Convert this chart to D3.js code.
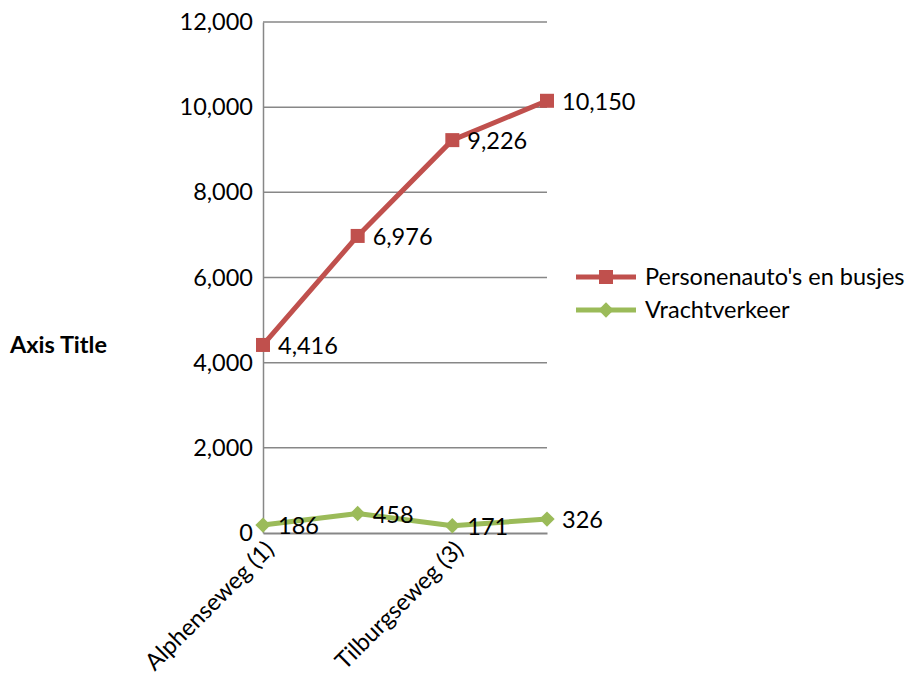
<!DOCTYPE html>
<html>
<head>
<meta charset="utf-8">
<script src="https://cdn.jsdelivr.net/npm/d3@7"></script>
<style>
  body { margin: 0; background: #fff; }
  text { font-family: Lato, "Open Sans", sans-serif; fill: #000; }
</style>
</head>
<body>
<div id="chart"></div>
<script>
// data
const categories = ["Alphenseweg (1)", "Alphenseweg (2)", "Tilburgseweg (3)", "Tilburgseweg (4)"];
const shownLabels = ["Alphenseweg (1)", "Tilburgseweg (3)"];
const cars = [4416, 6976, 9226, 10150];
const trucks = [186, 458, 171, 326];
const seriesNames = ["Personenauto's en busjes", "Vrachtverkeer"];
const yTicks = [0, 2000, 4000, 6000, 8000, 10000, 12000];

const W = 909, H = 675;
const margin = { left: 263, right: 362, top: 22, bottom: 142 };
const fs = "23.5px";

const svg = d3.select("#chart").append("svg")
    .attr("width", W)
    .attr("height", H);

const x = d3.scalePoint()
    .domain(categories)
    .range([margin.left, W - margin.right]);

const y = d3.scaleLinear()
    .domain([0, 12000])
    .range([H - margin.bottom, margin.top]);

const fmt = d3.format(",");

// gridlines
svg.append("g").selectAll("line")
    .data(yTicks.filter(d => d > 0))
    .enter().append("line")
    .attr("x1", margin.left)
    .attr("x2", W - margin.right)
    .attr("y1", d => y(d))
    .attr("y2", d => y(d))
    .attr("stroke", "#878787")
    .attr("stroke-width", 1.5);

// y axis
const yAxis = svg.append("g")
    .attr("transform", `translate(${margin.left},0)`)
    .call(d3.axisLeft(y).tickValues(yTicks).tickFormat(fmt).tickSize(0).tickPadding(10));
yAxis.select(".domain").attr("stroke", "#878787").attr("stroke-width", 1.5);
yAxis.selectAll("text").style("font-size", fs).style("font-family", "Lato");

// x axis
const xAxis = svg.append("g")
    .attr("transform", `translate(0,${y(0)})`)
    .call(d3.axisBottom(x).tickSize(0).tickFormat(d => shownLabels.includes(d) ? d : ""));
xAxis.select(".domain").attr("stroke", "#878787").attr("stroke-width", 2);
xAxis.selectAll("text")
    .style("font-size", fs)
    .style("font-family", "Lato")
    .attr("text-anchor", "end")
    .attr("dy", "0.35em")
    .attr("transform", "translate(4,10) rotate(-45)");

// axis title
svg.append("text")
    .attr("x", 10)
    .attr("y", 353)
    .style("font-size", "23.5px")
    .style("font-weight", "bold")
    .text("Axis Title");

const line = d3.line()
    .x((d, i) => x(categories[i]))
    .y(d => y(d));

// trucks series
svg.append("path")
    .datum(trucks)
    .attr("d", line)
    .attr("fill", "none")
    .attr("stroke", "#9BBB59")
    .attr("stroke-width", 5)
    .attr("stroke-linejoin", "round");

svg.append("g").selectAll("path")
    .data(trucks)
    .enter().append("path")
    .attr("d", d3.symbol().type(d3.symbolDiamond2).size(150))
    .attr("transform", (d, i) => `translate(${x(categories[i])},${y(d)})`)
    .attr("fill", "#9BBB59");

// cars series
svg.append("path")
    .datum(cars)
    .attr("d", line)
    .attr("fill", "none")
    .attr("stroke", "#C0504D")
    .attr("stroke-width", 5)
    .attr("stroke-linejoin", "round");

svg.append("g").selectAll("rect")
    .data(cars)
    .enter().append("rect")
    .attr("x", (d, i) => x(categories[i]) - 7)
    .attr("y", d => y(d) - 7)
    .attr("width", 14)
    .attr("height", 14)
    .attr("fill", "#C0504D");

// data labels
[cars, trucks].forEach(s => {
  svg.append("g").selectAll("text")
    .data(s)
    .enter().append("text")
    .attr("x", (d, i) => x(categories[i]) + 15)
    .attr("y", d => y(d) + 1)
    .attr("dy", "0.35em")
    .style("font-size", fs)
    .text(d => fmt(d));
});

// legend
const legend = svg.append("g").attr("transform", "translate(576,277)");
const legendColors = ["#C0504D", "#9BBB59"];
seriesNames.forEach((name, i) => {
  const g = legend.append("g").attr("transform", `translate(0,${i * 33})`);
  g.append("line")
    .attr("x1", 0).attr("x2", 60)
    .attr("stroke", legendColors[i])
    .attr("stroke-width", 5);
  if (i === 0) {
    g.append("rect").attr("x", 23).attr("y", -7).attr("width", 14).attr("height", 14)
      .attr("fill", legendColors[i]);
  } else {
    g.append("path").attr("d", d3.symbol().type(d3.symbolDiamond2).size(150))
      .attr("transform", "translate(30,0)")
      .attr("fill", legendColors[i]);
  }
  g.append("text")
    .attr("x", 69)
    .attr("dy", "0.35em")
    .style("font-size", "23.5px")
    .text(name);
});
</script>
</body>
</html>
